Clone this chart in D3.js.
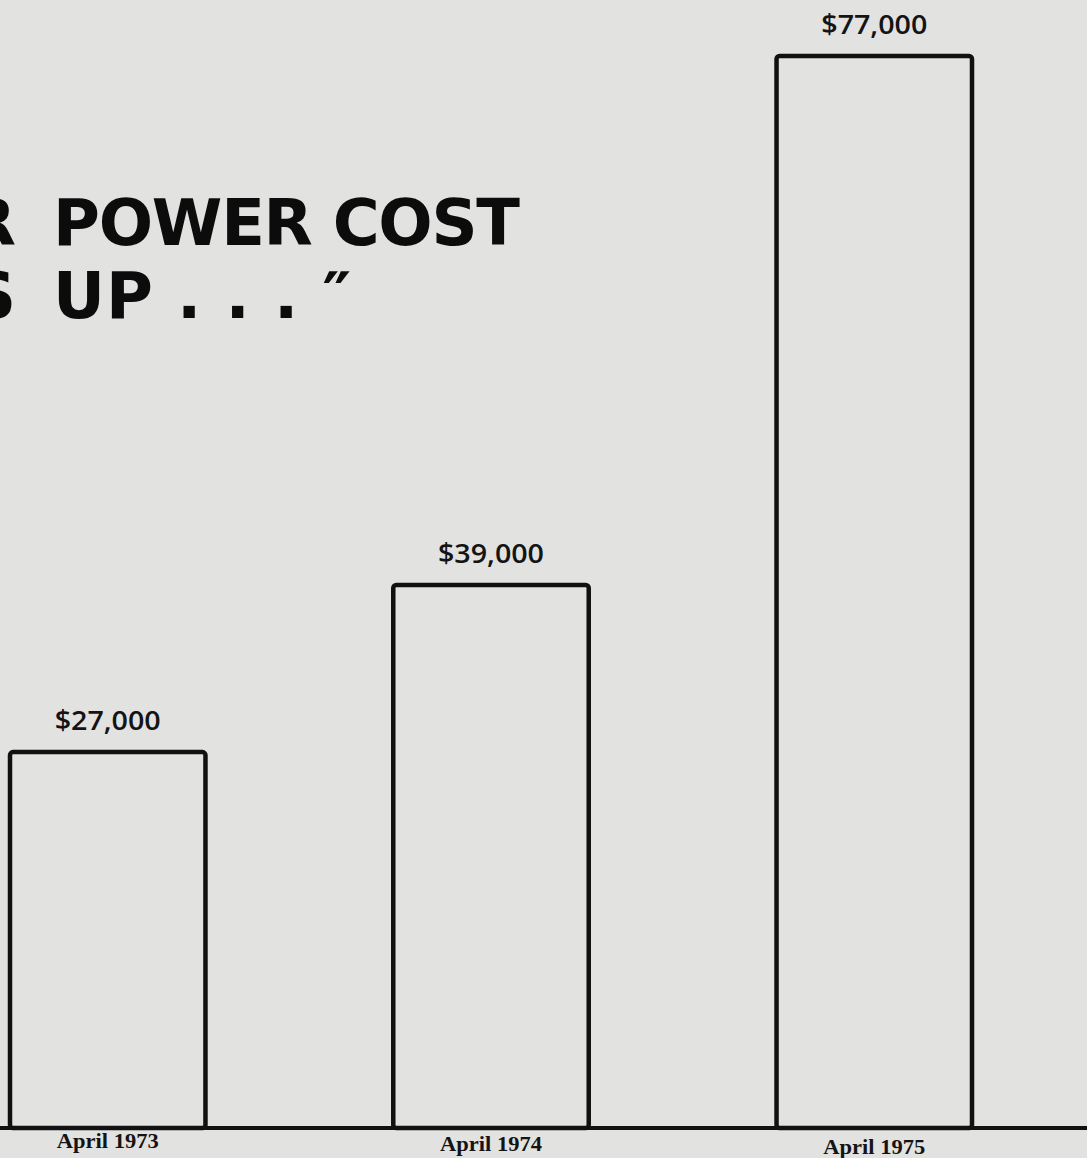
<!DOCTYPE html>
<html>
<head>
<meta charset="utf-8">
<script src="https://cdn.jsdelivr.net/npm/d3@7"></script>
<style>
  html, body { margin: 0; padding: 0; background: #e2e2e0; overflow: hidden; }
</style>
</head>
<body>
<div class="container"></div>
<script>
// the data
var categories = ["April 1973", "April 1974", "April 1975"];
var costs = [27000, 39000, 77000];
var costLabels = ["$27,000", "$39,000", "$77,000"];
// title is cut at the left edge in the scan: first letters kept apart
var titleCut = ["R", "S"];
var titleLines = ["POWER COST", "UP . . . \u2033"];

var width = 1087, height = 1158;

var svg = d3.select(".container").append("svg")
  .attr("width", width)
  .attr("height", height)
  .style("background-color", "#e2e2e0");

var x = d3.scaleBand()
  .domain(categories)
  .range([10, 972])
  .paddingInner(0.49)
  .paddingOuter(0);

var y = d3.scaleLinear()
  .domain([0, 77000])
  .range([1128, 56]);

var titleFont = function(sel) {
  sel.style("font-family", "'DejaVu Sans', sans-serif")
    .style("font-weight", "bold")
    .style("font-size", "64px")
    .style("fill", "#0c0c0c");
};

// cut-off letters
svg.selectAll("text.cut")
  .data(titleCut)
  .enter()
  .append("text")
  .attr("class", "cut")
  .attr("x", 16)
  .attr("y", function(d, i) { return 245 + i * 73 })
  .attr("text-anchor", "end")
  .call(titleFont)
  .text(function(d) { return d });

svg.selectAll("text.title")
  .data(titleLines)
  .enter()
  .append("text")
  .attr("class", "title")
  .attr("x", 53)
  .attr("y", function(d, i) { return 245 + i * 73 })
  .attr("textLength", function(d, i) { return i == 0 ? 467 : 298 })
  .attr("lengthAdjust", "spacing")
  .call(titleFont)
  .text(function(d) { return d });

// bars
svg.selectAll("rect.bar")
  .data(costs)
  .enter()
  .append("rect")
  .attr("class", "bar")
  .attr("x", function(d, i) { return x(categories[i]) })
  .attr("y", function(d) { return y(d) })
  .attr("width", x.bandwidth())
  .attr("height", function(d) { return y(0) - y(d) })
  .attr("rx", 3)
  .style("fill", "none")
  .style("stroke", "#111")
  .style("stroke-width", 4.5);

// baseline
svg.append("line")
  .attr("x1", 0)
  .attr("x2", width)
  .attr("y1", y(0))
  .attr("y2", y(0))
  .style("stroke", "#111")
  .style("stroke-width", 4);

// value labels
svg.selectAll("text.value")
  .data(costs)
  .enter()
  .append("text")
  .attr("class", "value")
  .attr("x", function(d, i) { return x(categories[i]) + x.bandwidth() / 2 })
  .attr("y", function(d) { return y(d) - 22 })
  .attr("text-anchor", "middle")
  .attr("textLength", 106)
  .attr("lengthAdjust", "spacingAndGlyphs")
  .style("font-family", "'Open Sans', sans-serif")
  .style("font-weight", "600")
  .style("font-size", "27px")
  .style("fill", "#141414")
  .text(function(d, i) { return costLabels[i] });

// category labels
svg.selectAll("text.cat")
  .data(categories)
  .enter()
  .append("text")
  .attr("class", "cat")
  .attr("x", function(d) { return x(d) + x.bandwidth() / 2 })
  .attr("y", function(d, i) { return y(0) + 20 + i * 3 })
  .attr("text-anchor", "middle")
  .attr("textLength", 102)
  .attr("lengthAdjust", "spacingAndGlyphs")
  .style("font-family", "'Liberation Serif', serif")
  .style("font-weight", "bold")
  .style("font-size", "20px")
  .style("fill", "#141414")
  .text(function(d) { return d });
</script>
</body>
</html>
